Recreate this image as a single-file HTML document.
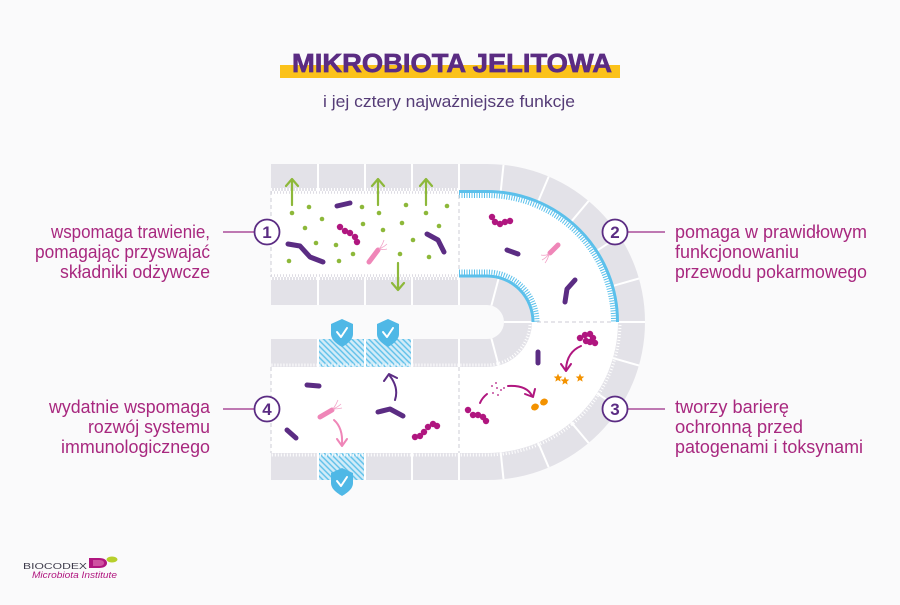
<!DOCTYPE html>
<html><head><meta charset="utf-8"><style>
html,body{margin:0;padding:0;background:#fafafb;}
svg{display:block;}
text{font-family:"Liberation Sans",sans-serif;}
</style></head><body>
<svg width="900" height="605" viewBox="0 0 900 605" xmlns="http://www.w3.org/2000/svg">
<defs>
<pattern id="hatch" width="4" height="4" patternUnits="userSpaceOnUse" patternTransform="rotate(-45)">
<rect width="4" height="4" fill="#d3ecf8"/>
<line x1="1" y1="0" x2="1" y2="4" stroke="#5bbfe9" stroke-width="1.4"/>
</pattern>
<path id="star" d="M0,-4.5 L1.18,-1.62 L4.28,-1.39 L1.9,0.62 L2.65,3.64 L0,2 L-2.65,3.64 L-1.9,0.62 L-4.28,-1.39 L-1.18,-1.62 Z" fill="#f39200"/>
<g id="shield">
<path d="M0,-13 L11,-8 V2 C11,8 5,12 0,15 C-5,12 -11,8 -11,2 V-8 Z" fill="#4fb8e6"/>
<path d="M-5,0 L-1,5 L5,-4" fill="none" stroke="#fff" stroke-width="2" stroke-linecap="round" stroke-linejoin="round"/>
</g>
</defs>
<rect width="900" height="605" fill="#fafafb"/>

<!-- title -->
<rect x="280" y="65" width="340" height="13" fill="#fbc21a"/>
<text x="452" y="72" text-anchor="middle" font-size="26" font-weight="bold" fill="#5b2c83" stroke="#5b2c83" stroke-width="0.7" textLength="320" lengthAdjust="spacingAndGlyphs">MIKROBIOTA JELITOWA</text>
<text x="449" y="107" text-anchor="middle" font-size="16.5" fill="#553c77" textLength="252" lengthAdjust="spacingAndGlyphs">i jej cztery najważniejsze funkcje</text>

<!-- tube walls -->
<path d="M271,164 H487 A158,158 0 0 1 487,480 H271 Z" fill="#e3e2e8"/>
<!-- lumens -->
<path d="M271,191 H487 A131,131 0 0 1 618,322 H532 A45,45 0 0 0 487,277 H271 Z" fill="#fff"/>
<path d="M271,453 H487 A131,131 0 0 0 618,322 H532 A45,45 0 0 1 487,367 H271 Z" fill="#fff"/>
<!-- gap -->
<path d="M271,305 H487 A17,17 0 0 1 487,339 H271 Z" fill="#fafafb"/>

<!-- hatched tiles -->
<rect x="318" y="339" width="47" height="28" fill="url(#hatch)"/>
<rect x="365" y="339" width="47" height="28" fill="url(#hatch)"/>
<rect x="318" y="453" width="47" height="27" fill="url(#hatch)"/>

<!-- tile separators -->
<g stroke="#fff" stroke-width="2">
<line x1="318" y1="164" x2="318" y2="191"/><line x1="365" y1="164" x2="365" y2="191"/><line x1="412" y1="164" x2="412" y2="191"/><line x1="459" y1="164" x2="459" y2="191"/>
<line x1="318" y1="277" x2="318" y2="305"/><line x1="365" y1="277" x2="365" y2="305"/><line x1="412" y1="277" x2="412" y2="305"/><line x1="459" y1="277" x2="459" y2="305"/>
<line x1="318" y1="339" x2="318" y2="367"/><line x1="365" y1="339" x2="365" y2="367"/><line x1="412" y1="339" x2="412" y2="367"/><line x1="459" y1="339" x2="459" y2="367"/>
<line x1="318" y1="453" x2="318" y2="480"/><line x1="365" y1="453" x2="365" y2="480"/><line x1="412" y1="453" x2="412" y2="480"/><line x1="459" y1="453" x2="459" y2="480"/>
<line x1="500.7" y1="191.7" x2="503.5" y2="164.9"/>
<line x1="538.2" y1="201.4" x2="548.7" y2="176.6"/>
<line x1="571.2" y1="221.7" x2="588.6" y2="201.0"/>
<line x1="596.9" y1="250.7" x2="619.5" y2="236.0"/>
<line x1="612.9" y1="285.9" x2="638.9" y2="278.5"/>
<line x1="618" y1="322" x2="645" y2="322"/>
<line x1="612.9" y1="358.1" x2="638.9" y2="365.5"/>
<line x1="596.9" y1="393.3" x2="619.5" y2="408.0"/>
<line x1="571.2" y1="422.3" x2="588.6" y2="443.0"/>
<line x1="538.2" y1="442.6" x2="548.7" y2="467.4"/>
<line x1="500.7" y1="452.3" x2="503.5" y2="479.1"/>
<line x1="491.4" y1="305.6" x2="498.6" y2="278.5"/>
<line x1="504" y1="322" x2="532" y2="322"/>
<line x1="491.4" y1="338.4" x2="498.6" y2="365.5"/>
</g>

<!-- brush borders -->
<g fill="none" stroke="#fff" stroke-width="3" stroke-dasharray="1 2">
<line x1="271" y1="189.5" x2="459" y2="189.5"/>
<line x1="271" y1="278.5" x2="459" y2="278.5"/>
<path d="M530,322 A43,43 0 0 1 487,365 H271"/>
<path d="M620,322 A133,133 0 0 1 487,455 H271"/>
</g>
<g fill="none" stroke="#dddce3" stroke-width="2.5" stroke-dasharray="1 2">
<line x1="271" y1="192.5" x2="459" y2="192.5"/>
<line x1="271" y1="275.5" x2="459" y2="275.5"/>
</g>
<!-- blue bands section 2 -->
<g fill="none" stroke="#5bc0eb">
<path d="M459,191.5 H487 A130.5,130.5 0 0 1 617.5,322" stroke-width="3"/>
<path d="M459,195.5 H487 A126.5,126.5 0 0 1 613.5,322" stroke-width="5" stroke-dasharray="1 1.5"/>
<path d="M459,276 H487 A46,46 0 0 1 533,322" stroke-width="3"/>
<path d="M459,272 H487 A50,50 0 0 1 537,322" stroke-width="5" stroke-dasharray="1 1.5"/>
</g>

<!-- dashed separators -->
<g stroke="#d6d5dd" stroke-width="1.2" stroke-dasharray="4 3" fill="none">
<line x1="271" y1="191" x2="271" y2="277"/>
<line x1="459" y1="195" x2="459" y2="271"/>
<line x1="271" y1="367" x2="271" y2="453"/>
<line x1="459" y1="367" x2="459" y2="453"/>
<line x1="537" y1="322" x2="614" y2="322"/>
</g>

<!-- shields -->
<use href="#shield" x="342" y="332"/>
<use href="#shield" x="388" y="332"/>
<use href="#shield" x="342" y="481"/>

<!-- section 1 -->
<g fill="#8db83a">
<circle cx="292" cy="213" r="2.3"/><circle cx="309" cy="207" r="2.3"/><circle cx="322" cy="219" r="2.3"/><circle cx="305" cy="228" r="2.3"/>
<circle cx="316" cy="243" r="2.3"/><circle cx="336" cy="245" r="2.3"/><circle cx="289" cy="261" r="2.3"/><circle cx="339" cy="261" r="2.3"/>
<circle cx="353" cy="254" r="2.3"/><circle cx="362" cy="207" r="2.3"/><circle cx="363" cy="224" r="2.3"/><circle cx="379" cy="213" r="2.3"/>
<circle cx="383" cy="230" r="2.3"/><circle cx="406" cy="205" r="2.3"/><circle cx="402" cy="223" r="2.3"/><circle cx="413" cy="240" r="2.3"/>
<circle cx="400" cy="254" r="2.3"/><circle cx="426" cy="213" r="2.3"/><circle cx="439" cy="226" r="2.3"/><circle cx="429" cy="257" r="2.3"/>
<circle cx="447" cy="206" r="2.3"/>
</g>
<g fill="none" stroke="#8db83a" stroke-width="2.2" stroke-linecap="round" stroke-linejoin="round">
<line x1="292" y1="205" x2="292" y2="180"/><polyline points="286,186 292,179 298,186"/>
<line x1="378" y1="205" x2="378" y2="180"/><polyline points="372,186 378,179 384,186"/>
<line x1="426" y1="205" x2="426" y2="180"/><polyline points="420,186 426,179 432,186"/>
<line x1="398" y1="263" x2="398" y2="288"/><polyline points="392,283 398,290 404,283"/>
</g>
<g fill="none" stroke="#5b2c83" stroke-width="5" stroke-linecap="round" stroke-linejoin="round">
<line x1="337" y1="206" x2="350" y2="203"/>
<polyline points="288,244 300,246 310,257 323,262"/>
<polyline points="427,234 438,240 444,252"/>
<line x1="507" y1="250" x2="518" y2="254"/>
<polyline points="565,302 567,289 575,280"/>
<line x1="538" y1="352" x2="538" y2="363"/>
<line x1="307" y1="385" x2="319" y2="386"/>
<line x1="287" y1="430" x2="296" y2="438"/>
<polyline points="378,412 390,409 403,416"/>
</g>
<g fill="#b0167f">
<circle cx="340" cy="227" r="3.2"/><circle cx="345" cy="231" r="3.2"/><circle cx="350" cy="233" r="3.2"/><circle cx="355" cy="237" r="3.2"/><circle cx="357" cy="242" r="3.2"/>
<circle cx="492" cy="217" r="3.2"/><circle cx="495" cy="222" r="3.2"/><circle cx="500" cy="224" r="3.2"/><circle cx="505" cy="222" r="3.2"/><circle cx="510" cy="221" r="3.2"/>
<circle cx="580" cy="338" r="3.2"/><circle cx="585" cy="335" r="3.2"/><circle cx="590" cy="334" r="3.2"/><circle cx="593" cy="338" r="3.2"/><circle cx="590" cy="342" r="3.2"/><circle cx="595" cy="343" r="3.2"/><circle cx="586" cy="341" r="3.2"/>
<circle cx="468" cy="410" r="3.2"/><circle cx="473" cy="415" r="3.2"/><circle cx="478" cy="415" r="3.2"/><circle cx="483" cy="417" r="3.2"/><circle cx="486" cy="421" r="3.2"/>
<circle cx="415" cy="437" r="3.2"/><circle cx="420" cy="436" r="3.2"/><circle cx="424" cy="432" r="3.2"/><circle cx="428" cy="427" r="3.2"/><circle cx="433" cy="424" r="3.2"/><circle cx="437" cy="426" r="3.2"/>
<circle cx="492" cy="386" r="0.9"/><circle cx="497" cy="388" r="0.9"/><circle cx="501" cy="390" r="0.9"/><circle cx="504" cy="388" r="0.9"/><circle cx="493" cy="393" r="0.9"/><circle cx="498" cy="395" r="0.9"/><circle cx="496" cy="383" r="0.9"/>
</g>
<!-- pink bacteria -->
<g stroke="#ef86b8" stroke-linecap="round" fill="none">
<line x1="369" y1="262" x2="378" y2="250" stroke-width="5"/>
<line x1="558" y1="245" x2="550" y2="253" stroke-width="5"/>
<line x1="320" y1="417" x2="332" y2="410" stroke-width="5"/>
</g>
<g stroke="#f2a3c8" stroke-width="0.8" fill="none">
<path d="M379,249 q3,-3 5,-9"/><path d="M379,249 q5,-2 8,-5"/><path d="M379,249 q5,1 8,0"/>
<path d="M549,254 q-4,2 -8,1"/><path d="M549,254 q-3,4 -7,6"/><path d="M549,254 q-1,5 -4,9"/>
<path d="M333,409 q3,-4 5,-9"/><path d="M333,409 q5,-2 8,-5"/><path d="M333,409 q5,0 9,-1"/>
</g>
<!-- arrows -->
<g fill="none" stroke="#b0167f" stroke-width="2" stroke-linecap="round" stroke-linejoin="round">
<path d="M581,346 Q567,352 566,369"/><polyline points="561,364 566,371 571,364"/>
<path d="M480,403 Q482,398 487,394"/>
<path d="M508,386 Q527,385 532,396"/><polyline points="525,394 533,397 535,389"/>
</g>
<path d="M334,420 Q343,428 342,444" fill="none" stroke="#ef86b8" stroke-width="2" stroke-linecap="round"/>
<polyline points="337,439 342,446 347,439" fill="none" stroke="#ef86b8" stroke-width="2" stroke-linecap="round" stroke-linejoin="round"/>
<path d="M395,400 Q399,388 390,376" fill="none" stroke="#5b2c83" stroke-width="2" stroke-linecap="round"/>
<polyline points="384,381 389,374 397,378" fill="none" stroke="#5b2c83" stroke-width="2" stroke-linecap="round" stroke-linejoin="round"/>
<!-- orange -->
<use href="#star" x="558" y="378"/>
<use href="#star" x="565" y="381"/>
<use href="#star" x="580" y="378"/>
<g fill="#f39200">
<ellipse cx="535" cy="407" rx="4" ry="3.3" transform="rotate(-25 535 407)"/>
<ellipse cx="544" cy="402" rx="4" ry="3.3" transform="rotate(-25 544 402)"/>
</g>

<!-- number circles -->
<g stroke="#9b2a86" stroke-width="1.3">
<line x1="223" y1="232" x2="255" y2="232"/>
<line x1="223" y1="409" x2="255" y2="409"/>
<line x1="627" y1="232" x2="665" y2="232"/>
<line x1="627" y1="409" x2="665" y2="409"/>
</g>
<g fill="#fff" stroke="#5b2c83" stroke-width="1.8">
<circle cx="267" cy="232" r="12.5"/><circle cx="615" cy="232" r="12.5"/><circle cx="615" cy="409" r="12.5"/><circle cx="267" cy="409" r="12.5"/>
</g>
<g font-size="17" font-weight="bold" fill="#5b2c83" text-anchor="middle">
<text x="267" y="238">1</text><text x="615" y="238">2</text><text x="615" y="415">3</text><text x="267" y="415">4</text>
</g>

<!-- labels -->
<g font-size="18" fill="#a8287f" text-anchor="end">
<text x="210" y="238" textLength="159" lengthAdjust="spacingAndGlyphs">wspomaga trawienie,</text>
<text x="210" y="258" textLength="175" lengthAdjust="spacingAndGlyphs">pomagając przyswajać</text>
<text x="210" y="278" textLength="150" lengthAdjust="spacingAndGlyphs">składniki odżywcze</text>
<text x="210" y="413" textLength="161" lengthAdjust="spacingAndGlyphs">wydatnie wspomaga</text>
<text x="210" y="433" textLength="122" lengthAdjust="spacingAndGlyphs">rozwój systemu</text>
<text x="210" y="453" textLength="149" lengthAdjust="spacingAndGlyphs">immunologicznego</text>
</g>
<g font-size="18" fill="#a8287f">
<text x="675" y="238" textLength="192" lengthAdjust="spacingAndGlyphs">pomaga w prawidłowym</text>
<text x="675" y="258" textLength="124" lengthAdjust="spacingAndGlyphs">funkcjonowaniu</text>
<text x="675" y="278" textLength="192" lengthAdjust="spacingAndGlyphs">przewodu pokarmowego</text>
<text x="675" y="413" textLength="114" lengthAdjust="spacingAndGlyphs">tworzy barierę</text>
<text x="675" y="433" textLength="128" lengthAdjust="spacingAndGlyphs">ochronną przed</text>
<text x="675" y="453" textLength="188" lengthAdjust="spacingAndGlyphs">patogenami i toksynami</text>
</g>

<!-- logo -->
<text x="23" y="569" font-family="Liberation Sans, sans-serif" font-size="8.5" fill="#3d3a4a" textLength="64" lengthAdjust="spacingAndGlyphs">BIOCODEX</text>
<path d="M89,558 H99 C104,558 107,560 107,563 C107,566 104,568 99,568 H89 Z" fill="#b0167f"/>
<path d="M93,560 H99 C102,560 104,561 104,563 C104,565 102,566 99,566 H93 Z" fill="#e27bb8" opacity="0.6"/>
<ellipse cx="112" cy="559.5" rx="5.5" ry="3" fill="#b7cf2c"/>
<text x="32" y="578" font-family="Liberation Serif, serif" font-style="italic" font-size="9.5" fill="#b0167f" textLength="85" lengthAdjust="spacingAndGlyphs">Microbiota Institute</text>
</svg>
</body></html>
